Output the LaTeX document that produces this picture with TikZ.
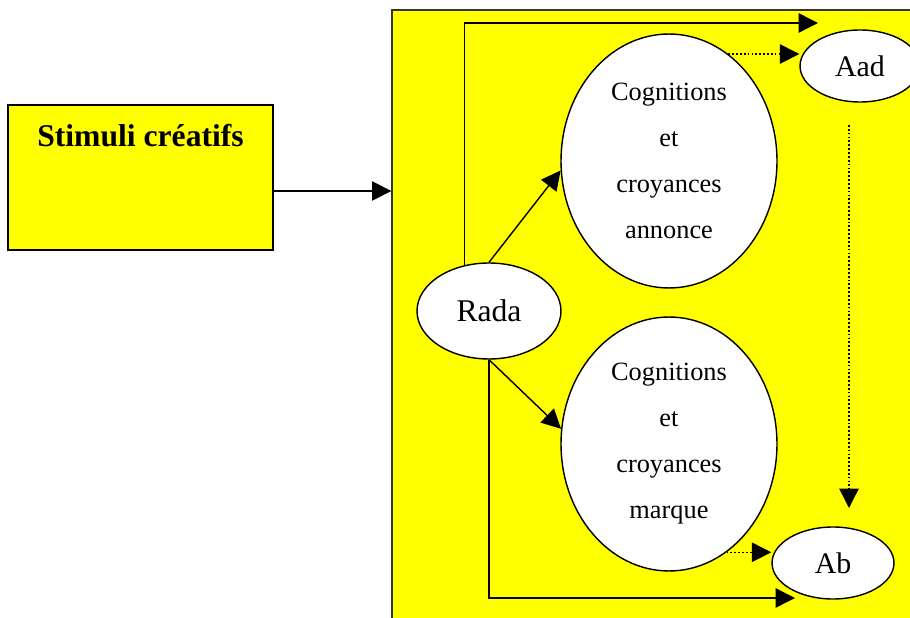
\documentclass[tikz,border=0pt]{standalone}
\usepackage{fontspec}
\setmainfont{Liberation Serif}
\usepackage{xcolor}
\usepackage{tikz}
\usetikzlibrary{arrows.meta,calc,positioning,shapes.geometric}

\definecolor{jaune}{HTML}{FFFF00}

\begin{document}
\begin{tikzpicture}[x=0.02cm,y=-0.02cm,
    arr/.style={line width=0.8pt,-{Triangle[length=11pt,width=11pt]}},
    dotarr/.style={arr,dash pattern=on 1pt off 1.2pt},
    bulle/.style={ellipse,draw,line width=0.8pt,fill=white,inner sep=0pt},
    cogn/.style={bulle,minimum width=4.32cm,minimum height=5.08cm,align=center,
      font=\fontsize{15}{26.2}\selectfont}]
  \useasboundingbox (0,0) rectangle (910,618);
  \clip (0,0) rectangle (910,618);

  % cadre jaune
  \node[draw=black!80,line width=0.8pt,fill=jaune,minimum width=10.96cm,minimum height=12.8cm,inner sep=0pt] (cadre) at (666,330) {};

  % stimuli
  \node[draw,line width=0.7pt,fill=jaune,minimum width=5.3cm,minimum height=2.9cm,inner sep=0pt] (stim) at (140.5,177.5) {};
  \node[font=\fontsize{18}{20}\selectfont\bfseries] (stimtxt) at (140.5,136) {Stimuli créatifs};
  \draw[arr] (stim.east |- 0,191) -- (cadre.west |- 0,191);

  % ellipses
  \node[cogn] (cog1) at (669,161) {Cognitions\\et\\croyances\\annonce};
  \node[cogn] (cog2) at (669,444) {Cognitions\\et\\croyances\\marque};
  \node[bulle,minimum width=2.88cm,minimum height=1.92cm,font=\fontsize{18}{20}\selectfont] (rada) at (489,311) {Rada};
  \node[bulle,minimum width=2.4cm,minimum height=1.44cm,font=\fontsize{17}{20}\selectfont] (aad) at (860,66) {Aad};
  \node[bulle,minimum width=2.44cm,minimum height=1.44cm,font=\fontsize{17}{20}\selectfont] (ab) at (833,563) {Ab};

  \coordinate (haut) at (818,23);
  \coordinate (bas) at (795,598);
  \coordinate (va) at (849,125);
  \coordinate (vb) at (849,508);

  % fleches
  \draw[arr] (rada.118) |- (haut);
  \draw[arr] (rada.south) |- (bas);
  \draw[arr] (rada.north) -- (cog1.185);
  \draw[arr] (rada.south) -- (cog2.172);
  \draw[dotarr] (cog1.61) -- (cog1.61 -| aad.west);
  \draw[dotarr] (cog2.298) -- (cog2.298 -| ab.west);
  \draw[dotarr] (va) -- (vb);
\end{tikzpicture}
\end{document}
